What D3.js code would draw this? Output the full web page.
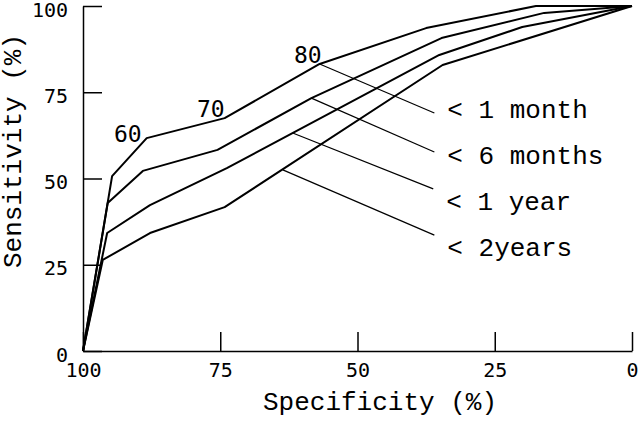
<!DOCTYPE html>
<html>
<head>
<meta charset="utf-8">
<script src="https://cdn.jsdelivr.net/npm/d3@7"></script>
<style>
  body { margin: 0; background: #fff; }
  svg { display: block; }
</style>
</head>
<body>
<div id="chart"></div>
<script>
// Specificity (%) / Sensitivity (%) pairs for each curve
const curveNames = ["< 1 month", "< 6 months", "< 1 year", "< 2years"];
const month1 = [[100, 0], [94.7, 50.7], [88.4, 61.7], [74.2, 67.5], [56.9, 83.2], [37.5, 93.6], [17.5, 100], [0, 100]];
const months6 = [[100, 0], [95.5, 42.9], [89.1, 52.2], [75.5, 58.3], [58.4, 73.3], [34.7, 90.7], [16, 98], [0, 100]];
const year1 = [[100, 0], [95.6, 34.2], [87.8, 42.3], [73.8, 53], [35.1, 85.8], [20, 93.9], [0, 100]];
const years2 = [[100, 0], [96.4, 26.4], [87.8, 34.2], [74.2, 41.7], [34.5, 82.9], [0, 100]];
const curves = [month1, months6, year1, years2];

// threshold labels on the top curve
const thresholdLabels = ["60", "70", "80"];
const thresholdPoints = [[88.4, 61.7], [74.2, 67.5], [56.9, 83.2]];

// leader lines: from a point on the curve to the label
const leaderFrom = [[56.9, 83.2], [58.4, 73.3], [61.8, 63.2], [63.6, 52.5]];
const leaderTo = [[36, 69], [36, 57.7], [36.2, 47], [36, 33.6]];

const xTicks = [100, 75, 50, 25, 0];
const yTicks = [0, 25, 50, 75, 100];

const W = 640, H = 422;
const margin = { top: 6, right: 8, bottom: 71, left: 83 };
const width = W - margin.left - margin.right;
const height = H - margin.top - margin.bottom;

const svg = d3.select("#chart").append("svg")
  .attr("width", W)
  .attr("height", H);

const g = svg.append("g")
  .attr("transform", `translate(${margin.left},${margin.top})`);

const x = d3.scaleLinear().domain([100, 0]).range([0, width]);
const y = d3.scaleLinear().domain([0, 100]).range([height, 0]);

const numFont = "'DejaVu Sans Mono', monospace";
const txtFont = "'Liberation Mono', 'Courier New', monospace";

// axes, ticks pointing inward
g.append("g")
  .attr("transform", `translate(0,${height})`)
  .call(d3.axisBottom(x).tickValues(xTicks).tickSizeInner(-19).tickSizeOuter(0).tickPadding(12))
  .call(a => a.selectAll("line, path").attr("stroke", "#000").attr("stroke-width", 1.5))
  .call(a => a.selectAll("text").attr("fill", "#000").style("font-family", numFont).style("font-size", "20px"));

g.append("g")
  .call(d3.axisLeft(y).tickValues(yTicks).tickSizeInner(-19).tickSizeOuter(0).tickPadding(15))
  .call(a => a.selectAll("line, path").attr("stroke", "#000").attr("stroke-width", 1.5))
  .call(a => a.selectAll("text").attr("fill", "#000").attr("dy", "0.5em")
    .style("font-family", numFont).style("font-size", "20px"));

// axis titles
svg.append("text")
  .attr("x", 380)
  .attr("y", 410)
  .attr("text-anchor", "middle")
  .style("font-family", txtFont)
  .style("font-size", "26px")
  .text("Specificity (%)");

svg.append("text")
  .attr("transform", "translate(21,151) rotate(-90)")
  .attr("text-anchor", "middle")
  .style("font-family", txtFont)
  .style("font-size", "26px")
  .text("Sensitivity (%)");

// curves
const line = d3.line()
  .x(d => x(d[0]))
  .y(d => y(d[1]));

curves.forEach(c => {
  g.append("path")
    .datum(c)
    .attr("fill", "none")
    .attr("stroke", "#000")
    .attr("stroke-width", 2)
    .attr("stroke-linejoin", "round")
    .attr("d", line);
});

// leader lines and curve names
curveNames.forEach((name, i) => {
  g.append("line")
    .attr("x1", x(leaderFrom[i][0]))
    .attr("y1", y(leaderFrom[i][1]))
    .attr("x2", x(leaderTo[i][0]))
    .attr("y2", y(leaderTo[i][1]))
    .attr("stroke", "#000")
    .attr("stroke-width", 1.2);

  g.append("text")
    .attr("x", x(leaderTo[i][0]) + 13)
    .attr("y", y(leaderTo[i][1]))
    .attr("dy", i < 1 ? "0.2em" : i < 2 ? "0.45em" : "0.8em")
    .style("font-family", txtFont)
    .style("font-size", "26px")
    .text(name);
});

// threshold numbers, nudged next to their knee
const labelNudge = [[-5, 4], [0, -1], [2, -1]];
thresholdLabels.forEach((t, i) => {
  g.append("text")
    .attr("x", x(thresholdPoints[i][0]) + labelNudge[i][0])
    .attr("y", y(thresholdPoints[i][1]) + labelNudge[i][1])
    .attr("text-anchor", "end")
    .style("font-family", numFont)
    .style("font-size", "23px")
    .text(t);
});
</script>
</body>
</html>
